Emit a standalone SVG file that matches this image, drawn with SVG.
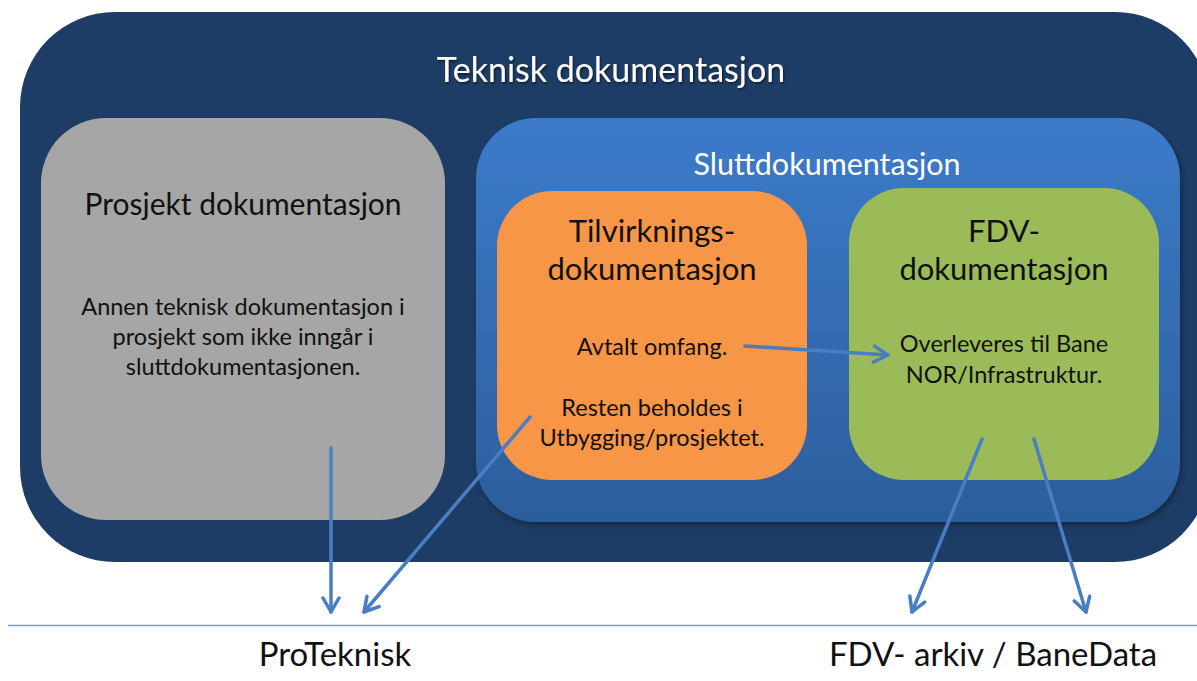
<svg xmlns="http://www.w3.org/2000/svg" width="1197" height="681" viewBox="0 0 1197 681">
<style>
.t{font-family:Lato,"Open Sans","Liberation Sans",sans-serif;text-anchor:middle}
.w{fill:#ffffff}
.k{fill:#111111}
.c{fill:none;stroke:#4A7EC2;stroke-width:3.5;stroke-linecap:round}
</style>
<defs>
<linearGradient id="gBlue" x1="0" y1="0" x2="0" y2="1">
<stop offset="0" stop-color="#3C7BCA"/>
<stop offset="1" stop-color="#2C5E9C"/>
</linearGradient>
<filter id="sh" x="-10%" y="-10%" width="120%" height="120%">
<feDropShadow dx="2" dy="3" stdDeviation="3" flood-color="#000" flood-opacity="0.35"/>
</filter>
<filter id="tsh" x="-5%" y="-20%" width="110%" height="140%">
<feDropShadow dx="1" dy="1.5" stdDeviation="1" flood-color="#000" flood-opacity="0.6"/>
</filter>
<marker id="ah" viewBox="0 0 20 20" refX="17" refY="10" markerWidth="20" markerHeight="20" markerUnits="userSpaceOnUse" orient="auto">
<path d="M3,2 L17,10 L3,18" fill="none" stroke="#4A7EC2" stroke-width="3.5" stroke-linecap="round" stroke-linejoin="round"/>
</marker>
</defs>
<rect width="1197" height="681" fill="#ffffff"/>
<g id="teknisk">
<rect x="20" y="12" width="1190" height="550" rx="95" ry="95" fill="#1E3D66"/>
<text class="t w" x="611" y="82" font-size="34" filter="url(#tsh)">Teknisk dokumentasjon</text>
</g>
<g id="prosjekt">
<rect x="41" y="118" width="404" height="402" rx="65" ry="65" fill="#A6A6A6"/>
<text class="t k" x="243" y="215" font-size="30">Prosjekt dokumentasjon</text>
<text class="t k" x="243" y="315" font-size="23.5">Annen teknisk dokumentasjon i</text>
<text class="t k" x="243" y="345" font-size="23.5">prosjekt som ikke inngår i</text>
<text class="t k" x="243" y="375" font-size="23.5">sluttdokumentasjonen.</text>
</g>
<g id="slutt">
<rect x="476" y="118" width="704" height="404" rx="60" ry="60" fill="url(#gBlue)" filter="url(#sh)"/>
<text class="t w" x="827" y="175" font-size="30.5">Sluttdokumentasjon</text>
</g>
<g id="tilvirkning">
<rect x="497" y="191" width="310" height="289" rx="55" ry="55" fill="#F79646"/>
<text class="t k" x="652" y="242" font-size="31">Tilvirknings-</text>
<text class="t k" x="652" y="280" font-size="31">dokumentasjon</text>
<text class="t k" x="652" y="355" font-size="23.5">Avtalt omfang.</text>
<text class="t k" x="652" y="416" font-size="23.5">Resten beholdes i</text>
<text class="t k" x="652" y="446" font-size="23.5">Utbygging/prosjektet.</text>
</g>
<g id="fdv">
<rect x="849" y="188" width="310" height="292" rx="55" ry="55" fill="#9BBB59"/>
<text class="t k" x="1004" y="242" font-size="31">FDV-</text>
<text class="t k" x="1004" y="280" font-size="31">dokumentasjon</text>
<text class="t k" x="1004" y="352" font-size="23.5">Overleveres til Bane</text>
<text class="t k" x="1004" y="383" font-size="23.5">NOR/Infrastruktur.</text>
</g>
<g id="baseline">
<line x1="8" y1="625.5" x2="1197" y2="625.5" stroke="#6FA0D8" stroke-width="1.5"/>
</g>
<g id="proteknisk">
<text class="t k" x="335" y="666" font-size="33">ProTeknisk</text>
</g>
<g id="fdvarkiv">
<text class="t k" x="993" y="666" font-size="33">FDV- arkiv / BaneData</text>
</g>
<g id="connectors">
<line class="c" x1="331" y1="448" x2="331" y2="612" marker-end="url(#ah)"/>
<line class="c" x1="530" y1="417" x2="364" y2="612" marker-end="url(#ah)"/>
<line class="c" x1="745" y1="346" x2="888" y2="355" marker-end="url(#ah)"/>
<line class="c" x1="982" y1="439" x2="912" y2="612" marker-end="url(#ah)"/>
<line class="c" x1="1034" y1="439" x2="1086" y2="612" marker-end="url(#ah)"/>
</g>
</svg>
